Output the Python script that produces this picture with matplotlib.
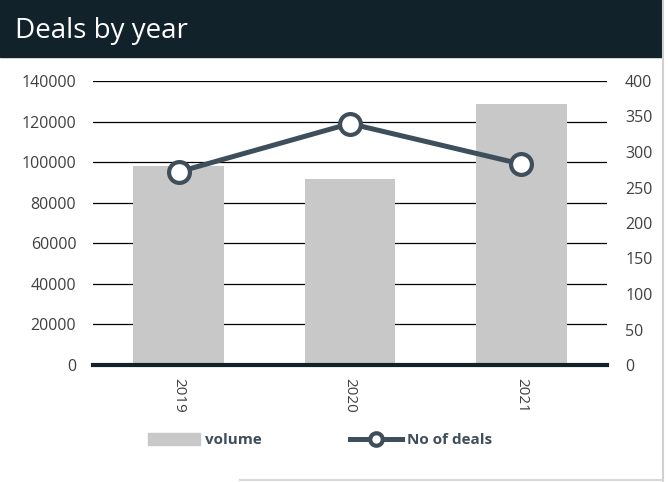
import matplotlib.pyplot as plt
from matplotlib.patches import Rectangle
from matplotlib.lines import Line2D

years = ["2019", "2020", "2021"]
volume = [98000, 91500, 128500]
deals = [272, 340, 283]

bar_color = "#c8c8c8"
line_color = "#3f4e5b"
dark = "#12222a"
text_color = "#404040"

plt.rcParams['font.family'] = ['Open Sans', 'DejaVu Sans']

fig = plt.figure(figsize=(6.68, 4.82), dpi=100)
fig.patch.set_facecolor("white")

# header band
fig.patches.append(Rectangle((0, 1 - 57 / 482), 662 / 668, 57 / 482,
                             transform=fig.transFigure, color=dark, zorder=0))
fig.text(15 / 668, 1 - 31 / 482, "Deals by year", color="white",
         fontsize=20, va="center", ha="left")
# thin frame on the right edge and bottom
fig.lines.append(Line2D([663 / 668, 663 / 668], [0, 1], transform=fig.transFigure,
                        color="#d0d0d0", lw=1.5))
fig.lines.append(Line2D([240 / 668, 663 / 668], [2 / 482, 2 / 482], transform=fig.transFigure,
                        color="#d8d8d8", lw=1.5))

ax = fig.add_axes([93 / 668, 1 - 365 / 482, 514 / 668, 284 / 482])
x = range(len(years))
ax.bar(x, volume, width=0.53, color=bar_color, zorder=2)
ax.set_ylim(0, 140000)
ax.set_xlim(-0.5, 2.5)
ax.set_yticks(range(0, 140001, 20000))
ax.grid(axis="y", color="black", lw=0.9, zorder=1)
ax.set_xticks(list(x))
ax.set_xticklabels(years, rotation=270, fontsize=11, color=text_color)
ax.tick_params(axis="both", length=0, labelsize=11.5, labelcolor=text_color)
ax.tick_params(axis="x", pad=9, labelsize=11)
ax.tick_params(axis="y", pad=12)
for s in ["top", "left", "right"]:
    ax.spines[s].set_visible(False)
ax.spines["bottom"].set_color(dark)
ax.spines["bottom"].set_linewidth(3)
ax.spines["bottom"].set_zorder(5)

ax2 = ax.twinx()
ax2.plot(x, deals, color=line_color, lw=3.6, marker="o", markersize=15,
         markerfacecolor="white", markeredgecolor=line_color, markeredgewidth=3,
         zorder=4)
ax2.set_ylim(0, 400)
ax2.set_yticks(range(0, 401, 50))
ax2.tick_params(axis="y", length=0, labelsize=11.5, labelcolor=text_color, pad=13)
for s in ax2.spines.values():
    s.set_visible(False)

handles = [
    Rectangle((0, 0), 1, 1, color=bar_color),
    Line2D([0], [0], color=line_color, lw=3.6, marker="o", markersize=9,
           markerfacecolor="white", markeredgecolor=line_color, markeredgewidth=3),
]
leg = fig.legend(handles, ["volume", "No of deals"], loc="center",
                 bbox_to_anchor=(320 / 668, 1 - 440 / 482), ncol=2, frameon=False,
                 fontsize=11, handlelength=3.4, handleheight=0.9, columnspacing=5.8,
                 handletextpad=0.3)
for t in leg.get_texts():
    t.set_color(line_color)
    t.set_fontweight("bold")

fig.savefig("out.png", dpi=100)
